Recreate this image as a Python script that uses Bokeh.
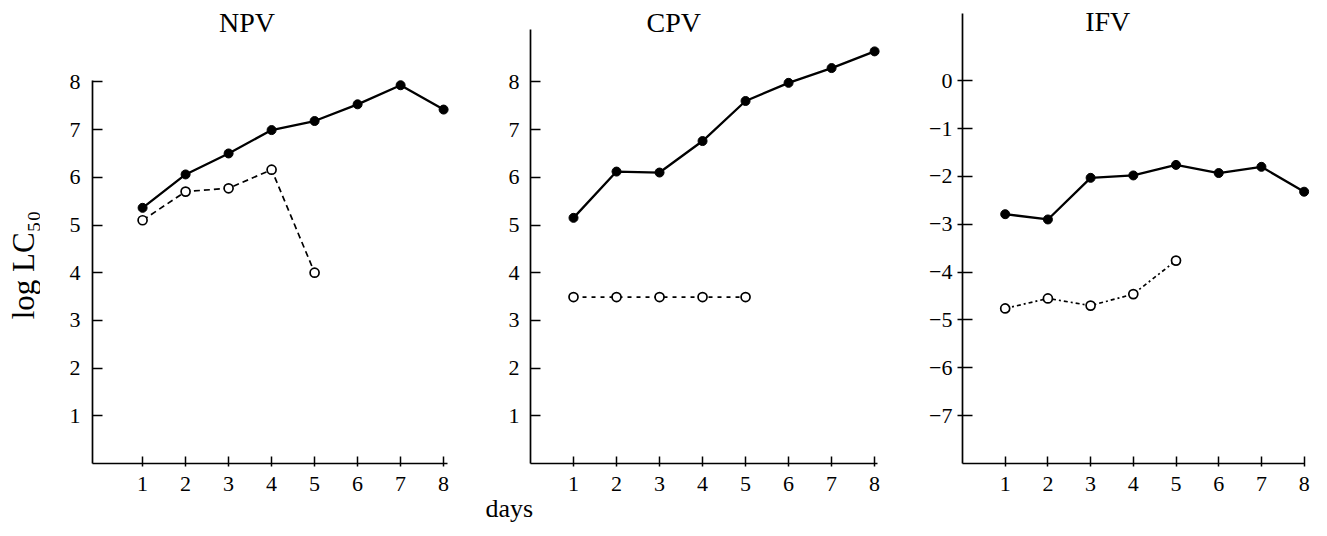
import math
from bokeh.plotting import figure
from bokeh.layouts import row
from bokeh.models import Range1d, FixedTicker, Label, Title
from bokeh.embed import file_html
from bokeh.resources import INLINE

# ---- data ----
days = [1, 2, 3, 4, 5, 6, 7, 8]
days_open = [1, 2, 3, 4, 5]
npv_solid = [5.36, 6.06, 6.50, 6.99, 7.18, 7.53, 7.93, 7.42]
npv_open = [5.10, 5.70, 5.77, 6.16, 4.00]
cpv_solid = [5.15, 6.12, 6.10, 6.76, 7.60, 7.98, 8.29, 8.64]
cpv_open = [3.49, 3.49, 3.49, 3.49, 3.49]
ifv_solid = [-2.79, -2.90, -2.03, -1.98, -1.76, -1.93, -1.80, -2.32]
ifv_open = [-4.76, -4.55, -4.70, -4.46, -3.76]

titles = ["NPV", "CPV", "IFV"]
x_ticks = [1, 2, 3, 4, 5, 6, 7, 8]
y_ticks_pos = [1, 2, 3, 4, 5, 6, 7, 8]
y_ticks_neg = [-7, -6, -5, -4, -3, -2, -1, 0]
y_labels_neg = ["\u22127", "\u22126", "\u22125", "\u22124", "\u22123", "\u22122", "\u22121", "0"]
y_axis_title = "log LC\u2085\u2080"
x_axis_title = "days"

FONT = "Liberation Serif"
H = 534
MB_TOP = 10
MB_BOTTOM = H - MB_TOP - 453


def make_panel(width, mbl, mbr, xr, yr, xb, yb, yticks, ylabels, solid, opn, dash,
               title, title_xy, tick_out, label_standoff):
    p = figure(width=width, height=H, output_backend="svg", toolbar_location=None,
               x_range=Range1d(*xr), y_range=Range1d(*yr),
               min_border_left=mbl, min_border_right=mbr,
               min_border_top=MB_TOP, min_border_bottom=MB_BOTTOM)
    p.outline_line_color = None
    p.grid.visible = False
    p.background_fill_color = "white"
    p.border_fill_color = "white"

    xa = p.xaxis[0]
    xa.ticker = FixedTicker(ticks=x_ticks)
    xa.bounds = xb
    xa.minor_tick_line_color = None
    xa.major_tick_in = 7
    xa.major_tick_out = 3
    xa.major_label_standoff = 10
    xa.axis_line_width = 1.7
    xa.major_tick_line_width = 1.5
    xa.axis_line_color = "black"
    xa.major_tick_line_color = "black"
    xa.major_label_text_font = FONT
    xa.major_label_text_font_size = "22px"
    xa.major_label_text_color = "black"

    ya = p.yaxis[0]
    ya.ticker = FixedTicker(ticks=yticks)
    if ylabels is not None:
        ya.major_label_overrides = {t: l for t, l in zip(yticks, ylabels)}
    ya.bounds = yb
    ya.minor_tick_line_color = None
    ya.major_tick_in = 10
    ya.major_tick_out = tick_out
    ya.major_label_standoff = label_standoff
    ya.axis_line_width = 1.7
    ya.major_tick_line_width = 1.5
    ya.axis_line_color = "black"
    ya.major_tick_line_color = "black"
    ya.major_label_text_font = FONT
    ya.major_label_text_font_size = "22px"
    ya.major_label_text_color = "black"

    p.line(days, solid, line_color="black", line_width=2.3)
    p.scatter(days, solid, size=9, fill_color="black", line_color="black")
    p.line(days_open, opn, line_color="black", line_width=1.7, line_dash=dash)
    p.scatter(days_open, opn, size=9, fill_color="white", line_color="black", line_width=1.7)

    p.add_layout(Label(x=title_xy[0], y=title_xy[1], text=title, text_font=FONT,
                       text_font_size="28px", text_align="center", text_baseline="middle",
                       text_color="black"))
    return p


def text_strip(width, height, text, tx, ty, size, angle=0.0):
    f = figure(width=width, height=height, output_backend="svg", toolbar_location=None,
               x_range=Range1d(0, width), y_range=Range1d(0, height),
               min_border=0, x_axis_type=None, y_axis_type=None)
    f.outline_line_color = None
    f.grid.visible = False
    f.add_layout(Label(x=tx, y=ty, text=text, text_font=FONT, text_font_size=size,
                       angle=angle, text_align="center", text_baseline="middle",
                       text_color="black"))
    return f


ylab = text_strip(40, H, y_axis_title, 23, H - 300, "31px", angle=math.pi / 2)

p1 = make_panel(426, 52, 10, (-0.165, 8.3), (0, 9.497), (-0.165, 8.1), (0, 8.02),
                y_ticks_pos, None, npv_solid, npv_open, "6 4",
                titles[0], (3.43, 9.25), 0, 12)

p2 = make_panel(431, 64, 10, (0, 8.30), (0, 9.497), (0, 8.07), (0, 9.1),
                y_ticks_pos, None, cpv_solid, cpv_open, "4 5",
                titles[1], (3.33, 9.25), 0, 11)
p2.add_layout(Title(text=x_axis_title, align="left", offset=-45, standoff=0,
                    text_font=FONT, text_font_size="26px", text_font_style="normal",
                    text_color="black", vertical_align="top"), "below")

p3 = make_panel(428, 65, 6, (0, 8.36), (-8, -8 + 453 / 47.85), (0, 8.0), (-8, 1.4),
                y_ticks_neg, y_labels_neg, ifv_solid, ifv_open, "4 3 2 3",
                titles[2], (3.40, 1.23), 5, 5)

layout = row(ylab, p1, p2, p3)
open("out.html", "w").write(file_html(layout, INLINE))
